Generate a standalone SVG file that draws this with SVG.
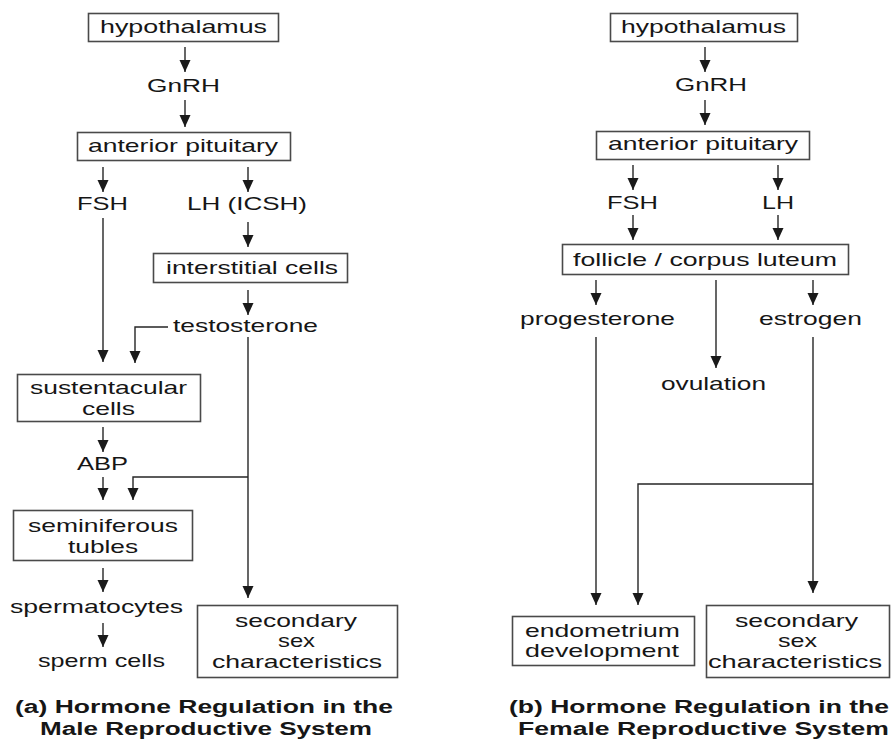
<svg xmlns="http://www.w3.org/2000/svg" width="892" height="740" viewBox="0 0 892 740">
<style>
text{font-family:"Liberation Sans",Arial,sans-serif;font-size:19px;fill:#161616}
.cap{font-weight:bold;font-size:17.5px}
rect{fill:#fff;stroke:#4a4a4a;stroke-width:1.6}
.c path{fill:none;stroke:#262626;stroke-width:1.4;marker-end:url(#ah)}
</style>
<defs>
<marker id="ah" markerUnits="userSpaceOnUse" viewBox="0 0 12 12" refX="12" refY="6" markerWidth="12" markerHeight="12" orient="auto">
<path d="M0,0.5 L12,6 L0,11.5 z" fill="#1a1a1a"/>
</marker>
</defs>
<rect x="0" y="0" width="892" height="740" style="fill:#fff;stroke:none"/>
<g class="c" id="connectors">
<path d="M185,47 V72"/>
<path d="M185,100 V127"/>
<path d="M103,167 V192"/>
<path d="M248,167 V192"/>
<path d="M248,222 V247"/>
<path d="M248,290 V315"/>
<path d="M103,218 V362"/>
<path d="M168,327 H135 V363"/>
<path d="M103,427 V452"/>
<path d="M248,337 V598"/>
<path d="M248,477 H133 V500"/>
<path d="M103,477 V500"/>
<path d="M103,568 V592"/>
<path d="M103,623 V647"/>
<path d="M705,47 V72"/>
<path d="M705,100 V125"/>
<path d="M633,165 V190"/>
<path d="M778,165 V190"/>
<path d="M633,215 V240"/>
<path d="M778,215 V240"/>
<path d="M596,280 V305"/>
<path d="M716,280 V368"/>
<path d="M813,280 V305"/>
<path d="M596,337 V605"/>
<path d="M813,337 V593"/>
<path d="M813,484 H638 V605"/>
</g>
<g id="m-hypothalamus"><rect x="88.5" y="13.5" width="190" height="28"/><text x="100" y="33" textLength="167" lengthAdjust="spacingAndGlyphs">hypothalamus</text></g>
<g id="m-gnrh"><text x="147" y="92" textLength="73" lengthAdjust="spacingAndGlyphs">GnRH</text></g>
<g id="m-pituitary"><rect x="77.5" y="132.5" width="213" height="28"/><text x="88" y="152" textLength="190" lengthAdjust="spacingAndGlyphs">anterior pituitary</text></g>
<g id="m-fsh"><text x="77" y="210" textLength="51" lengthAdjust="spacingAndGlyphs">FSH</text></g>
<g id="m-lh"><text x="187" y="210" textLength="120" lengthAdjust="spacingAndGlyphs">LH (ICSH)</text></g>
<g id="m-interstitial"><rect x="153.5" y="253.5" width="194" height="29"/><text x="166" y="274" textLength="172" lengthAdjust="spacingAndGlyphs">interstitial cells</text></g>
<g id="m-testosterone"><text x="173" y="332" textLength="145" lengthAdjust="spacingAndGlyphs">testosterone</text></g>
<g id="m-sustentacular"><rect x="17.5" y="374.5" width="183" height="47"/><text x="30" y="394" textLength="157" lengthAdjust="spacingAndGlyphs">sustentacular</text><text x="82" y="415" textLength="53" lengthAdjust="spacingAndGlyphs">cells</text></g>
<g id="m-abp"><text x="77" y="470" textLength="51" lengthAdjust="spacingAndGlyphs">ABP</text></g>
<g id="m-seminiferous"><rect x="13.5" y="510.5" width="179" height="50"/><text x="28" y="532" textLength="150" lengthAdjust="spacingAndGlyphs">seminiferous</text><text x="68" y="553" textLength="70" lengthAdjust="spacingAndGlyphs">tubles</text></g>
<g id="m-spermatocytes"><text x="10" y="613" textLength="173" lengthAdjust="spacingAndGlyphs">spermatocytes</text></g>
<g id="m-sperm"><text x="38" y="667" textLength="127" lengthAdjust="spacingAndGlyphs">sperm cells</text></g>
<g id="m-secondary"><rect x="197.5" y="605.5" width="200" height="72"/><text x="235" y="627" textLength="122" lengthAdjust="spacingAndGlyphs">secondary</text><text x="278" y="647" textLength="37" lengthAdjust="spacingAndGlyphs">sex</text><text x="212" y="668" textLength="170" lengthAdjust="spacingAndGlyphs">characteristics</text></g>
<g id="m-caption"><text class="cap" x="15" y="713" textLength="378" lengthAdjust="spacingAndGlyphs">(a) Hormone Regulation in the</text><text class="cap" x="40" y="735" textLength="332" lengthAdjust="spacingAndGlyphs">Male Reproductive System</text></g>
<g id="f-hypothalamus"><rect x="610.5" y="13.5" width="187" height="28"/><text x="621" y="33" textLength="165" lengthAdjust="spacingAndGlyphs">hypothalamus</text></g>
<g id="f-gnrh"><text x="675" y="91" textLength="72" lengthAdjust="spacingAndGlyphs">GnRH</text></g>
<g id="f-pituitary"><rect x="596.5" y="131.5" width="213" height="28"/><text x="608" y="150" textLength="190" lengthAdjust="spacingAndGlyphs">anterior pituitary</text></g>
<g id="f-fsh"><text x="607" y="209" textLength="51" lengthAdjust="spacingAndGlyphs">FSH</text></g>
<g id="f-lh"><text x="762" y="209" textLength="32" lengthAdjust="spacingAndGlyphs">LH</text></g>
<g id="f-follicle"><rect x="562.5" y="244.5" width="286" height="30"/><text x="573" y="266" textLength="264" lengthAdjust="spacingAndGlyphs">follicle / corpus luteum</text></g>
<g id="f-progesterone"><text x="520" y="325" textLength="155" lengthAdjust="spacingAndGlyphs">progesterone</text></g>
<g id="f-estrogen"><text x="759" y="325" textLength="103" lengthAdjust="spacingAndGlyphs">estrogen</text></g>
<g id="f-ovulation"><text x="661" y="390" textLength="105" lengthAdjust="spacingAndGlyphs">ovulation</text></g>
<g id="f-endometrium"><rect x="512.5" y="616.5" width="182" height="49"/><text x="525" y="637" textLength="155" lengthAdjust="spacingAndGlyphs">endometrium</text><text x="525" y="657" textLength="154" lengthAdjust="spacingAndGlyphs">development</text></g>
<g id="f-secondary"><rect x="706.5" y="605.5" width="183" height="72"/><text x="735" y="627" textLength="123" lengthAdjust="spacingAndGlyphs">secondary</text><text x="778" y="647" textLength="39" lengthAdjust="spacingAndGlyphs">sex</text><text x="708" y="668" textLength="174" lengthAdjust="spacingAndGlyphs">characteristics</text></g>
<g id="f-caption"><text class="cap" x="509" y="713" textLength="380" lengthAdjust="spacingAndGlyphs">(b) Hormone Regulation in the</text><text class="cap" x="518" y="735" textLength="371" lengthAdjust="spacingAndGlyphs">Female Reproductive System</text></g>
</svg>
